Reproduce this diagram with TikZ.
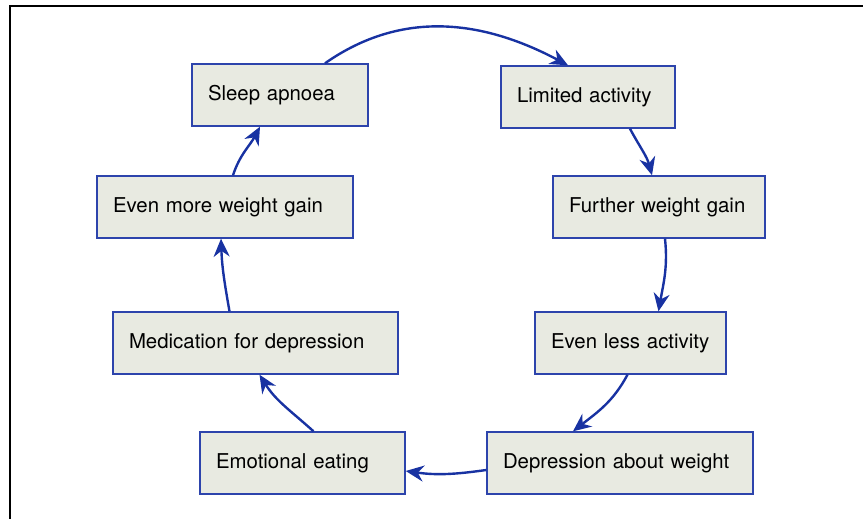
\documentclass[tikz,border=0pt]{standalone}
\usepackage{fontspec}
\setmainfont{TeX Gyre Heros}
\usetikzlibrary{arrows.meta,positioning}

\definecolor{boxfill}{RGB}{232,234,225}
\definecolor{boxline}{RGB}{45,68,172}
\definecolor{flowblue}{RGB}{24,50,162}

\tikzset{
  stage/.style={draw=boxline,fill=boxfill,line width=0.7pt,inner xsep=8pt,
    minimum height=31pt,align=left,font=\fontsize{10.2}{12}\selectfont},
  flow/.style={draw=flowblue,line width=1.2pt,-{Stealth[length=9pt,width=8pt]}}
}

\begin{document}
\begin{tikzpicture}[x=0.5pt,y=-0.5pt]
\useasboundingbox (0,0) rectangle (863,519);
% frame
\draw[line width=0.7pt] (10,519) -- (10,6) -- (863,6);

% left column
\node (sleep)   [stage,text width=72pt]  at (280,95)  {Sleep apnoea};
\node (moregain)[stage,text width=112pt] at (225,207) {Even more weight gain};
\node (meds)    [stage,text width=126.5pt] at (255.5,343) {Medication for depression};
\node (eating)  [stage,text width=86.5pt] at (302.5,463) {Emotional eating};
% right column
\node (limited) [stage,text width=71pt]  at (588,97)  {Limited activity};
\node (further) [stage,text width=90pt]  at (659,207) {Further weight gain};
\node (less)    [stage,text width=79.5pt] at (630.5,343) {Even less activity};
\node (depr)    [stage,text width=117pt] at (620,463) {Depression about weight};

\draw[flow] ([xshift=22.5pt]sleep.north) to[out=35,in=152] ([xshift=-10pt]limited.north);
\draw[flow] ([xshift=21pt]limited.south) to[out=-62,in=105] ([xshift=-3.5pt]further.north);
\draw[flow] ([xshift=3pt]further.south) to[out=-84,in=80] ([xshift=14pt]less.north);
\draw[flow] ([xshift=-1.5pt]less.south) to[out=-118,in=38] ([xshift=-23.5pt]depr.north);
\draw[flow] ([yshift=-3.5pt]depr.west) to[out=188,in=-8] ([yshift=-4pt]eating.east);
\draw[flow] ([xshift=5.5pt]eating.north) to[out=138,in=-58] ([xshift=2pt]meds.south);
\draw[flow] ([xshift=-13pt]meds.north) to[out=100,in=-88] ([xshift=-2pt]moregain.south);
\draw[flow] ([xshift=4pt]moregain.north) to[out=72,in=-118] ([xshift=-10pt]sleep.south);
\end{tikzpicture}
\end{document}
